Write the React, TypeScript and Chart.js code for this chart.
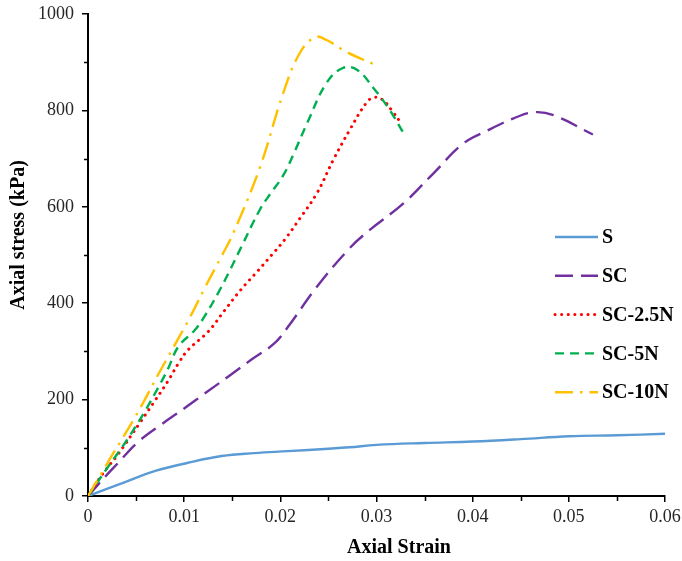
import React, { useEffect, useRef } from "react";
import { Chart, registerables } from "chart.js";

Chart.register(...registerables);

// ---- Data (axial strain, axial stress kPa) ----
const seriesLabels = ["S", "SC", "SC-2.5N", "SC-5N", "SC-10N"];

const sStrain = [0, 0.0035, 0.007, 0.0104, 0.0139, 0.0173, 0.0208, 0.025, 0.0272, 0.03, 0.035, 0.04, 0.045, 0.05, 0.055, 0.06];
const sStress = [0, 26, 52, 69, 83, 89, 93, 98, 101, 106, 110, 113, 118, 124, 126, 129];

const scStrain = [0, 0.0021, 0.0031, 0.0052, 0.0076, 0.0101, 0.0121, 0.0146, 0.017, 0.0194, 0.0208, 0.0238, 0.0272, 0.0293, 0.0328, 0.0359, 0.039, 0.0415, 0.0442, 0.0463, 0.0484, 0.0525];
const scStress = [0, 47, 68, 112, 148, 183, 212, 248, 283, 317, 351, 434, 514, 552, 607, 669, 731, 758, 783, 796, 790, 750];

const sc25Strain = [0, 0.0016, 0.0031, 0.0055, 0.0068, 0.0083, 0.0094, 0.0104, 0.0125, 0.0142, 0.0159, 0.0177, 0.0191, 0.0205, 0.022, 0.0238, 0.0255, 0.0272, 0.029, 0.0298, 0.0307, 0.0317, 0.0325];
const sc25Stress = [0, 48, 86, 155, 193, 238, 275, 303, 341, 385, 428, 468, 500, 533, 575, 628, 697, 759, 817, 827, 821, 797, 775];

const sc5Strain = [0, 0.0021, 0.0035, 0.0045, 0.0059, 0.0073, 0.0083, 0.0094, 0.0111, 0.0121, 0.0135, 0.0146, 0.0159, 0.0179, 0.019, 0.0203, 0.0215, 0.0228, 0.0248, 0.0265, 0.028, 0.0297, 0.0314, 0.0328];
const sc5Stress = [0, 61, 100, 130, 175, 225, 263, 310, 344, 372, 420, 462, 515, 595, 628, 665, 715, 774, 857, 888, 884, 846, 800, 753];

const sc10Strain = [0, 0.0014, 0.0026, 0.0036, 0.0055, 0.0073, 0.0094, 0.0104, 0.0113, 0.0121, 0.0132, 0.0139, 0.0151, 0.0179, 0.0203, 0.022, 0.0236, 0.0248, 0.0269, 0.0297];
const sc10Stress = [0, 47, 88, 120, 185, 252, 327, 363, 398, 430, 472, 498, 545, 683, 836, 918, 952, 946, 921, 896];

const xTickStep = 0.01;
const xMinorStep = 0.005;
const yTickStep = 200;
const yMinorStep = 100;

const FONT = "'Liberation Serif', 'Times New Roman', serif";

function pts(xs: number[], ys: number[]) {
  return xs.map((x, i) => ({ x, y: ys[i] }));
}

const minorTicksPlugin = {
  id: "minorTicks",
  afterDraw(chart: any) {
    const ctx = chart.ctx;
    const xs = chart.scales.x;
    const ys = chart.scales.y;
    ctx.save();
    ctx.strokeStyle = "#000";
    ctx.lineWidth = 1.5;
    ctx.beginPath();
    for (let v = xMinorStep; v < xs.max; v += xTickStep) {
      const px = Math.round(xs.getPixelForValue(v)) + 0.5;
      ctx.moveTo(px, ys.bottom);
      ctx.lineTo(px, ys.bottom + 5);
    }
    for (let v = yMinorStep; v < ys.max; v += yTickStep) {
      const py = Math.round(ys.getPixelForValue(v)) + 0.5;
      ctx.moveTo(xs.left - 4, py);
      ctx.lineTo(xs.left, py);
    }
    ctx.stroke();
    ctx.restore();
  },
};

const titlesPlugin = {
  id: "axisTitles",
  afterDraw(chart: any) {
    const ctx = chart.ctx;
    ctx.save();
    ctx.fillStyle = "#000";
    ctx.font = `bold 20px ${FONT}`;
    ctx.textAlign = "center";
    ctx.textBaseline = "middle";
    ctx.fillText("Axial Strain", 399, 548);
    ctx.translate(19, 235);
    ctx.rotate(-Math.PI / 2);
    ctx.fillText("Axial stress (kPa)", 0, 0);
    ctx.restore();
  },
};

const legendPlugin = {
  id: "inlineLegend",
  afterDraw(chart: any) {
    const ctx = chart.ctx;
    ctx.save();
    chart.data.datasets.forEach((ds: any, i: number) => {
      const y = 237 + i * 38.8;
      ctx.beginPath();
      ctx.strokeStyle = ds.borderColor;
      ctx.lineWidth = ds.borderWidth;
      ctx.lineCap = ds.borderCapStyle || "butt";
      ctx.setLineDash(ds.borderDash || []);
      ctx.moveTo(555, y);
      ctx.lineTo(598, y);
      ctx.stroke();
      ctx.setLineDash([]);
      ctx.fillStyle = "#000";
      ctx.font = `bold 20px ${FONT}`;
      ctx.textAlign = "left";
      ctx.textBaseline = "middle";
      ctx.fillText(ds.label, 602, y + 1);
    });
    ctx.restore();
  },
};

export default function App() {
  const canvasRef = useRef<HTMLCanvasElement | null>(null);

  useEffect(() => {
    const canvas = canvasRef.current;
    if (!canvas) return;
    const common = {
      fill: false,
      pointRadius: 0,
      borderWidth: 2.4,
      tension: 0.4,
    };
    const chart = new Chart(canvas, {
      type: "line",
      data: {
        datasets: [
          { ...common, label: seriesLabels[0], data: pts(sStrain, sStress), borderColor: "#5B9BD5", order: 5 },
          { ...common, label: seriesLabels[1], data: pts(scStrain, scStress), borderColor: "#7030A0", borderDash: [18, 8], order: 4 },
          { ...common, label: seriesLabels[2], data: pts(sc25Strain, sc25Stress), borderColor: "#FF0000", borderDash: [0.1, 6.5], borderCapStyle: "round", borderWidth: 3, order: 3 },
          { ...common, label: seriesLabels[3], data: pts(sc5Strain, sc5Stress), borderColor: "#00B050", borderDash: [9, 6], order: 2 },
          { ...common, label: seriesLabels[4], data: pts(sc10Strain, sc10Stress), borderColor: "#FFC000", borderDash: [18, 7, 2.5, 7], order: 1 },
        ] as any,
      },
      options: {
        animation: false,
        responsive: false,
        parsing: false as any,
        layout: { padding: { top: 14, right: 17, left: 0, bottom: 0 } },
        plugins: {
          legend: { display: false },
          tooltip: { enabled: false },
          title: { display: false },
        },
        scales: {
          x: {
            type: "linear",
            min: 0,
            max: 0.06,
            ticks: {
              stepSize: xTickStep,
              color: "#262626",
              font: { family: FONT, size: 18 },
              padding: 4,
              maxRotation: 0,
              callback: (v: any) => String(Number(Number(v).toFixed(2))),
            },
            grid: { drawOnChartArea: false, drawTicks: true, tickLength: 6, color: "#000", lineWidth: 1.5 },
            border: { display: true, color: "#000", width: 2 },
            afterFit: (scale: any) => {
              scale.height = 65;
              scale.paddingLeft = 0;
              scale.paddingRight = 0;
            },
          },
          y: {
            type: "linear",
            min: 0,
            max: 1000,
            ticks: {
              stepSize: yTickStep,
              color: "#262626",
              font: { family: FONT, size: 18 },
              padding: 8,
              callback: (v: any) => String(Math.round(Number(v))),
            },
            grid: { drawOnChartArea: false, drawTicks: true, tickLength: 6, color: "#000", lineWidth: 1.5 },
            border: { display: true, color: "#000", width: 2 },
            afterFit: (scale: any) => {
              scale.width = 88;
              scale.paddingTop = 0;
              scale.paddingBottom = 0;
            },
          },
        },
      } as any,
      plugins: [minorTicksPlugin, titlesPlugin, legendPlugin],
    });
    return () => chart.destroy();
  }, []);

  return (
    <div style={{ position: "fixed", left: 0, top: 0, width: 682, height: 561, background: "#fff" }}>
      <canvas ref={canvasRef} width={682} height={561} />
    </div>
  );
}
